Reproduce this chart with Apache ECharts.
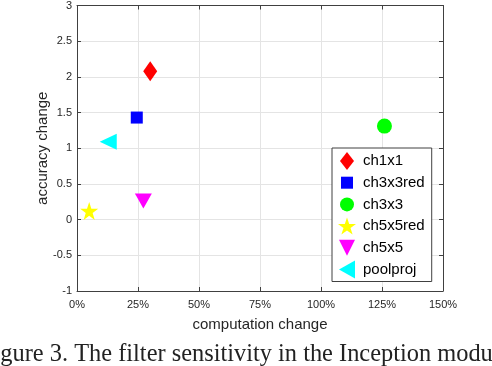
<!DOCTYPE html>
<html>
<head>
<meta charset="utf-8">
<script src="https://cdn.jsdelivr.net/npm/echarts@6/dist/echarts.min.js"></script>
<style>
html, body { margin: 0; padding: 0; background: #fff; }
#chart { width: 492px; height: 366px; }
</style>
</head>
<body>
<div id="chart"></div>
<script>
// values: [computation change %, accuracy change]
const names = ['ch1x1', 'ch3x3red', 'ch3x3', 'ch5x5red', 'ch5x5', 'poolproj']
const compChange = [30, 24.5, 126, 5, 27.2, 12.8]
const accChange = [2.08, 1.43, 1.31, 0.12, 0.26, 1.09]
const colors = ['#ff0000', '#0000ff', '#00ff00', '#ffff00', '#ff00ff', '#00ffff']

const starPath = 'path://M12,0 L14.9,8.6 L24,8.6 L16.6,14 L19.4,22.8 L12,17.4 L4.6,22.8 L7.4,14 L0,8.6 L9.1,8.6 Z'
const symbols = ['diamond', 'rect', 'circle', starPath, 'triangle', 'triangle']
const sizes = [[14, 20], 12, 15, 18, [17, 15], [16, 17]]
const rotates = [0, 0, 0, 0, 180, 90]

// legend icons drawn in a common 18x18 frame so each keeps its own size
const frame = 'M0,0 M18,18 '
const legendIcons = [
  'path://' + frame + 'M9,0 L16,9 L9,18 L2,9 Z',
  'path://' + frame + 'M3,3 L15,3 L15,15 L3,15 Z',
  'path://' + frame + 'M2,9 A7,7 0 1,0 16,9 A7,7 0 1,0 2,9 Z',
  'path://' + frame + 'M9,0.4 L11.2,6.9 L18,6.9 L12.5,10.9 L14.6,17.5 L9,13.5 L3.4,17.5 L5.5,10.9 L0,6.9 L6.8,6.9 Z',
  'path://' + frame + 'M1,1 L17,1 L9,17 Z',
  'path://' + frame + 'M1,9 L17,0 L17,18 Z'
]

const axisColor = '#404040'
const textColor = '#262626'
const font = 'Liberation Sans, Arial, Helvetica, sans-serif'

let chart = echarts.init(document.getElementById('chart'))

let series = names.map((n, i) => ({
  name: n,
  type: 'scatter',
  data: [[compChange[i], accChange[i]]],
  symbol: symbols[i],
  symbolSize: sizes[i],
  symbolRotate: rotates[i],
  itemStyle: { color: colors[i], opacity: 1 }
}))

let option = {
  animation: false,
  grid: {
    left: 77,
    right: 49,
    top: 5,
    bottom: 75
  },
  xAxis: [
    {
      type: 'value',
      min: 0,
      max: 150,
      interval: 25,
      name: 'computation change',
      nameLocation: 'middle',
      nameGap: 26,
      nameTextStyle: { color: textColor, fontSize: 15, fontFamily: font },
      axisLine: { onZero: false, lineStyle: { color: axisColor, width: 1 } },
      axisTick: { inside: true, length: 4, lineStyle: { color: axisColor } },
      axisLabel: { formatter: '{value}%', color: textColor, fontSize: 11, fontFamily: font, margin: 8 },
      splitLine: { show: true, lineStyle: { color: '#e4e4e4' } }
    },
    {
      type: 'value',
      position: 'top',
      min: 0,
      max: 150,
      interval: 25,
      axisLine: { show: true, onZero: false, lineStyle: { color: axisColor, width: 1 } },
      axisTick: { show: true, inside: true, length: 4, lineStyle: { color: axisColor } },
      axisLabel: { show: false },
      splitLine: { show: false }
    }
  ],
  yAxis: [
    {
      type: 'value',
      min: -1,
      max: 3,
      interval: 0.5,
      name: 'accuracy change',
      nameLocation: 'middle',
      nameGap: 27,
      nameMoveOverlap: false,
      nameTextStyle: { color: textColor, fontSize: 15, fontFamily: font },
      axisLine: { show: true, onZero: false, lineStyle: { color: axisColor, width: 1 } },
      axisTick: { show: true, inside: true, length: 4, lineStyle: { color: axisColor } },
      axisLabel: { color: textColor, fontSize: 11, fontFamily: font, margin: 5 },
      splitLine: { show: true, lineStyle: { color: '#e4e4e4' } }
    },
    {
      type: 'value',
      position: 'right',
      min: -1,
      max: 3,
      interval: 0.5,
      axisLine: { show: true, onZero: false, lineStyle: { color: axisColor, width: 1 } },
      axisTick: { show: true, inside: true, length: 4, lineStyle: { color: axisColor } },
      axisLabel: { show: false },
      splitLine: { show: false }
    }
  ],
  legend: {
    data: names.map((n, i) => ({ name: n, icon: legendIcons[i] })),
    orient: 'vertical',
    left: 332,
    top: 148,
    padding: [4, 7, 3, 6],
    itemWidth: 22,
    itemHeight: 18,
    itemGap: 3.7,
    symbolKeepAspect: true,
    backgroundColor: '#fff',
    borderColor: axisColor,
    borderWidth: 1,
    textStyle: { color: '#000', fontSize: 15, fontFamily: font }
  },
  graphic: [
    {
      type: 'text',
      left: -20,
      top: 343,
      style: {
        text: 'Figure 3. The filter sensitivity in the Inception module.',
        fill: '#222',
        font: '24.4px "Liberation Serif", "Times New Roman", serif'
      }
    }
  ],
  series: series
}
chart.setOption(option)
</script>
</body>
</html>
